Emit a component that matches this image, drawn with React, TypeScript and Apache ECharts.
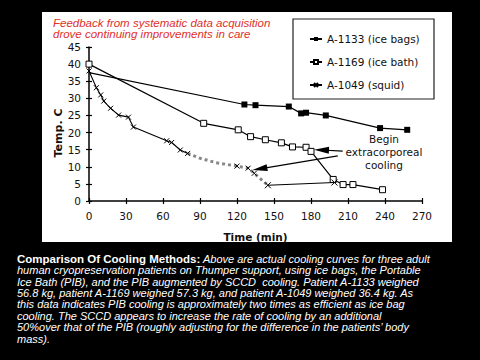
import React, { useEffect, useRef } from "react";
import * as echarts from "echarts";

// ---- data (time in min, temperature in °C) ----
const xTicks = [0, 30, 60, 90, 120, 150, 180, 210, 240, 270];
const yTicks = [0, 5, 10, 15, 20, 25, 30, 35, 40, 45];

const iceBagsName = "A-1133 (ice bags)";
const iceBathName = "A-1169 (ice bath)";
const squidName = "A-1049 (squid)";

const iceBags: [number, number][] = [
  [0, 37.5], [126, 28.2], [135, 28], [162, 27.6], [172, 25.6],
  [176, 25.8], [192, 25], [236, 21.3], [258, 20.8],
];
const iceBath: [number, number][] = [
  [0, 40], [93, 22.7], [121, 20.8], [131, 18.8], [143, 17.9], [156, 17],
  [165, 15.8], [176, 15.7], [180, 14.5], [198, 6.3], [206, 4.8], [214, 4.8], [238, 3.3],
];
const squidEarly: [number, number][] = [
  [0, 38], [6, 33.1], [9.5, 31], [12, 29.2], [17.5, 27.1], [24, 25.1],
  [32, 24.5], [36, 21.6], [63, 17.6], [67, 17.1], [74, 14.9], [80, 13.9],
];
const squidBand: [number, number][] = [
  [80, 13.9], [90, 12.5], [103, 11.2], [120, 10.2], [129, 9.6], [134, 8.1], [140, 6.2], [145, 4.6],
];
const squidBandMarked = [120, 129, 134];
const squidLate: [number, number][] = [[145, 4.6], [199, 5.4]];

// annotation arrows: [from, to] in data coordinates
const arrows: [[number, number], [number, number]][] = [
  [[205.7, 14.6], [188.5, 14.9]],
  [[201.7, 13.2], [138.5, 9.4]],
];

const titleLines = [
  "Feedback from systematic data acquisition",
  "drove continuing improvements in care",
];
const annotationLines = ["Begin", "extracorporeal", "cooling"];
const captionBold = "Comparison Of Cooling Methods:";
const captionLines = [
  " Above are actual cooling curves for three adult",
  "human cryopreservation patients on Thumper support, using ice bags, the Portable",
  "Ice Bath (PIB), and the PIB augmented by SCCD  cooling. Patient A-1133 weighed",
  "56.8 kg, patient A-1169 weighed 57.3 kg, and patient A-1049 weighed 36.4 kg. As",
  "this data indicates PIB cooling is approximately two times as efficient as ice bag",
  "cooling. The SCCD appears to increase the rate of cooling by an additional",
  "50%over that of the PIB (roughly adjusting for the difference in the patients\u2019 body",
  "mass).",
];

const X_SYMBOL = "path://M0,0L10,10M10,0L0,10";
const FONT = "DejaVu Sans";
const ARIAL = "Liberation Sans";

export default function App() {
  const ref = useRef<HTMLDivElement>(null);

  useEffect(() => {
    if (!ref.current) return;
    const chart = echarts.init(ref.current, undefined, { renderer: "svg" });

    const axisBase = {
      type: "value" as const,
      splitLine: { show: false },
      axisLine: { show: true, lineStyle: { color: "#000", width: 1.5 } },
    };

    const captionText =
      "{b|" + captionBold + "}{i|" + captionLines[0] + "}\n" +
      captionLines.slice(1).map((l) => "{i|" + l + "}").join("\n");

    const option: echarts.EChartsOption = {
      animation: false,
      backgroundColor: "#000",
      grid: { left: 89, top: 47, width: 333, height: 154, containLabel: false },
      legend: {
        orient: "vertical",
        left: 304,
        top: 27,
        itemGap: 9,
        itemWidth: 12,
        itemHeight: 5,
        data: [iceBagsName, iceBathName, squidName],
        textStyle: { fontFamily: FONT, fontSize: 10.5, color: "#111", lineHeight: 14 },
        selectedMode: false,
      },
      xAxis: [
        {
          ...axisBase,
          min: xTicks[0],
          max: xTicks[xTicks.length - 1],
          interval: 30,
          axisTick: { show: true, inside: false, length: 3, lineStyle: { color: "#000", width: 1.2 } },
          axisLabel: { fontFamily: FONT, fontSize: 10.5, color: "#111", margin: 9 },
          name: "Time (min)",
          nameLocation: "middle",
          nameGap: 30,
          nameTextStyle: { fontFamily: FONT, fontSize: 10.5, fontWeight: "bold", color: "#111" },
        },
        {
          ...axisBase,
          position: "bottom",
          min: xTicks[0],
          max: xTicks[xTicks.length - 1],
          interval: 30,
          axisLine: { show: false },
          axisTick: { show: true, inside: true, length: 3, lineStyle: { color: "#000", width: 1.2 } },
          axisLabel: { show: false },
        },
      ],
      yAxis: [
        {
          ...axisBase,
          min: yTicks[0],
          max: yTicks[yTicks.length - 1],
          interval: 5,
          axisTick: { show: true, inside: false, length: 3, lineStyle: { color: "#000", width: 1.2 } },
          axisLabel: { fontFamily: FONT, fontSize: 10.5, color: "#111", margin: 8 },
        },
        {
          ...axisBase,
          position: "left",
          min: yTicks[0],
          max: yTicks[yTicks.length - 1],
          interval: 5,
          axisLine: { show: false },
          axisTick: { show: true, inside: true, length: 3, lineStyle: { color: "#000", width: 1.2 } },
          axisLabel: { show: false },
        },
      ],
      series: [
        {
          name: iceBagsName,
          type: "line",
          data: iceBags.map((p, i) => (i === 0 ? { value: p, symbol: "none" } : { value: p })),
          symbol: "rect",
          symbolSize: 6,
          showAllSymbol: true,
          lineStyle: { color: "#000", width: 1.2 },
          itemStyle: { color: "#000" },
          z: 3,
        },
        {
          name: iceBathName,
          type: "line",
          data: iceBath,
          symbol: "rect",
          symbolSize: 6,
          showAllSymbol: true,
          lineStyle: { color: "#000", width: 1.2 },
          itemStyle: { color: "#fff", borderColor: "#000", borderWidth: 1 },
          z: 4,
          markLine: {
            silent: true,
            symbol: ["none", "triangle"],
            symbolSize: [7, 15],
            label: { show: false },
            lineStyle: { color: "#000", width: 1.2, type: "solid" },
            data: arrows.map(([a, b]) => [{ coord: a }, { coord: b }]) as any,
          },
        },
        {
          name: squidName,
          type: "line",
          data: squidEarly,
          symbol: X_SYMBOL,
          symbolSize: 5,
          showAllSymbol: true,
          lineStyle: { color: "#000", width: 1.1 },
          itemStyle: { color: "#000", borderColor: "#000", borderWidth: 1 },
          z: 5,
        },
        {
          name: "squid-band",
          type: "line",
          data: squidBand.map((p) =>
            squidBandMarked.includes(p[0]) ? { value: p } : { value: p, symbol: "none" }
          ),
          symbol: X_SYMBOL,
          symbolSize: 5,
          showAllSymbol: true,
          lineStyle: { color: "#888", width: 3, type: "dotted" },
          itemStyle: { color: "#000", borderColor: "#000", borderWidth: 1 },
          z: 5,
        },
        {
          name: "squid-late",
          type: "line",
          data: squidLate,
          symbol: X_SYMBOL,
          symbolSize: 6,
          showAllSymbol: true,
          lineStyle: { color: "#000", width: 1.1 },
          itemStyle: { color: "#000", borderColor: "#000", borderWidth: 1 },
          z: 5,
        },
      ],
      graphic: [
        {
          type: "rect",
          z: -100,
          silent: true,
          shape: { x: 42, y: 12, width: 410, height: 230 },
          style: { fill: "#fff" },
        },
        {
          type: "rect",
          z: 1,
          silent: true,
          shape: { x: 293, y: 19, width: 141, height: 80 },
          style: { fill: "none", stroke: "#222", lineWidth: 1.2 },
        },
        {
          type: "text",
          z: 10,
          x: 53,
          y: 17,
          style: {
            text: titleLines.join("\n"),
            fill: "#e0302a",
            fontFamily: ARIAL,
            fontStyle: "italic",
            fontSize: 11.5,
            lineHeight: 11.6,
            align: "left",
            verticalAlign: "top",
          },
        },
        {
          type: "text",
          z: 10,
          x: 58,
          y: 133,
          rotation: Math.PI / 2,
          style: {
            text: "Temp. C",
            fill: "#111",
            fontFamily: FONT,
            fontWeight: "bold",
            fontSize: 11,
            align: "center",
            verticalAlign: "middle",
          },
        },
        {
          type: "text",
          z: 10,
          x: 384,
          y: 133,
          style: {
            text: annotationLines.join("\n"),
            fill: "#111",
            fontFamily: FONT,
            fontSize: 10.5,
            lineHeight: 12.7,
            align: "center",
            verticalAlign: "top",
          },
        },
        {
          type: "text",
          z: 10,
          x: 17,
          y: 253,
          style: {
            text: captionText,
            fill: "#fff",
            align: "left",
            verticalAlign: "top",
            rich: {
              b: { fill: "#fff", fontFamily: ARIAL, fontWeight: "bold", fontSize: 11.5, lineHeight: 11.4 },
              i: { fill: "#fff", fontFamily: ARIAL, fontStyle: "italic", fontSize: 11, lineHeight: 11.4 },
            },
          } as any,
        },
      ],
    };

    chart.setOption(option);
    return () => chart.dispose();
  }, []);

  return (
    <div
      ref={ref}
      style={{ position: "absolute", left: 0, top: 0, width: 480, height: 360, background: "#000" }}
    />
  );
}
